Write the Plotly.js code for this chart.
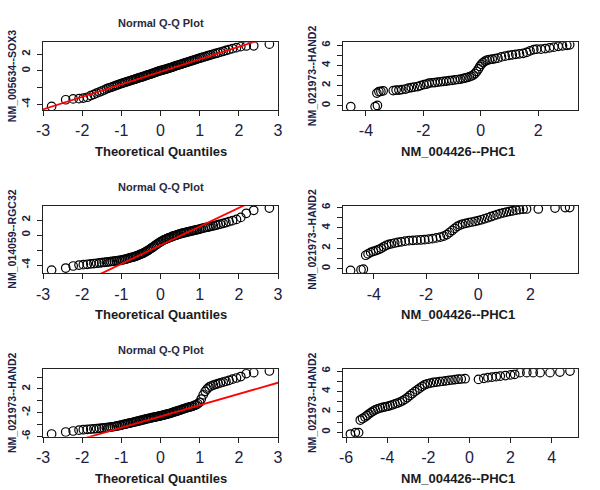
<!DOCTYPE html>
<html><head><meta charset="utf-8">
<script src="https://cdn.plot.ly/plotly-3.0.1.min.js"></script>
<style>html,body{margin:0;padding:0;background:#fff}</style>
</head><body>
<div id="chart" style="width:600px;height:490px"></div>
<script>
// ---------- data ----------
const theoQ = [-2.78,-2.42,-2.23,-2.08,-1.97,-1.87,-1.78,-1.70,-1.63,-1.56,
 -1.50,-1.44,-1.38,-1.33,-1.28,-1.23,-1.18,-1.13,-1.09,-1.04,
 -1.00,-0.96,-0.92,-0.88,-0.84,-0.80,-0.76,-0.72,-0.68,-0.64,
 -0.61,-0.57,-0.53,-0.50,-0.46,-0.43,-0.39,-0.36,-0.32,-0.29,
 -0.25,-0.22,-0.18,-0.15,-0.11,-0.08,-0.04,-0.01,0.02,0.06,
 0.09,0.13,0.16,0.20,0.23,0.27,0.30,0.34,0.37,0.41,
 0.44,0.48,0.52,0.55,0.59,0.63,0.67,0.71,0.75,0.79,
 0.83,0.87,0.91,0.95,1.00,1.04,1.09,1.14,1.19,1.24,
 1.29,1.35,1.41,1.47,1.53,1.60,1.67,1.75,1.84,1.94,
 2.05,2.19,2.38,2.78];

const sox3Sample = [-4.25,-3.45,-3.35,-3.32,-3.25,-3.15,-2.95,-2.80,-2.65,-2.52,
 -2.40,-2.28,-2.15,-2.05,-1.98,-1.90,-1.82,-1.72,-1.66,-1.58,
 -1.50,-1.44,-1.38,-1.32,-1.26,-1.20,-1.14,-1.08,-1.02,-0.97,
 -0.92,-0.86,-0.80,-0.75,-0.69,-0.64,-0.58,-0.53,-0.47,-0.42,
 -0.36,-0.31,-0.25,-0.19,-0.13,-0.08,-0.02,0.03,0.07,0.12,
 0.16,0.21,0.26,0.31,0.36,0.42,0.47,0.53,0.58,0.64,
 0.69,0.75,0.81,0.86,0.92,0.98,1.04,1.10,1.16,1.22,
 1.28,1.34,1.40,1.46,1.53,1.59,1.66,1.73,1.80,1.87,
 1.94,2.02,2.10,2.18,2.26,2.36,2.46,2.56,2.68,2.80,
 2.92,3.00,3.02,3.22];

const rgc32Sample = [-4.67,-4.40,-4.13,-4.00,-3.95,-3.90,-3.84,-3.80,-3.76,-3.72,
 -3.68,-3.64,-3.60,-3.57,-3.54,-3.51,-3.48,-3.45,-3.42,-3.38,
 -3.35,-3.30,-3.25,-3.20,-3.14,-3.08,-3.02,-2.96,-2.90,-2.84,
 -2.78,-2.70,-2.62,-2.55,-2.46,-2.38,-2.28,-2.18,-2.06,-1.95,
 -1.82,-1.70,-1.56,-1.44,-1.30,-1.18,-1.05,-0.94,-0.84,-0.74,
 -0.65,-0.56,-0.48,-0.40,-0.33,-0.26,-0.19,-0.12,-0.06,0.00,
 0.06,0.12,0.18,0.23,0.28,0.33,0.38,0.43,0.48,0.53,
 0.58,0.63,0.68,0.73,0.80,0.86,0.92,0.98,1.04,1.10,
 1.16,1.23,1.30,1.38,1.46,1.56,1.66,1.78,1.92,2.08,
 2.35,2.90,3.30,3.60];

const hand2Sample = [-5.60,-5.27,-5.10,-4.96,-4.88,-4.82,-4.77,-4.73,-4.69,-4.65,
 -4.61,-4.57,-4.52,-4.48,-4.44,-4.39,-4.34,-4.28,-4.22,-4.16,
 -4.10,-4.03,-3.96,-3.90,-3.84,-3.78,-3.72,-3.66,-3.60,-3.54,
 -3.48,-3.42,-3.36,-3.30,-3.24,-3.18,-3.12,-3.06,-3.00,-2.95,
 -2.90,-2.85,-2.80,-2.75,-2.70,-2.65,-2.60,-2.55,-2.50,-2.44,
 -2.38,-2.32,-2.26,-2.20,-2.14,-2.07,-2.00,-1.92,-1.84,-1.76,
 -1.68,-1.60,-1.52,-1.44,-1.36,-1.28,-1.20,-1.12,-1.04,-0.96,
 -0.88,-0.78,-0.66,-0.50,-0.25,0.30,1.00,1.60,2.00,2.30,
 2.50,2.65,2.78,2.90,3.02,3.15,3.30,3.45,3.65,3.85,
 4.10,4.60,4.75,5.03];

// qqline: [intercept, slope]
const qqLineSOX3 = [-0.10, 1.50];
const qqLineRGC32 = [-1.36, 2.49];
const qqLineHAND2 = [-2.64, 1.90];

// scatter panels: NM_004426--PHC1 (x) vs NM_021973--HAND2 (y)
const phc1Top = [-4.53,-3.68,-3.60,-3.62,-3.55,-3.48,-3.40,-3.05,-2.95,-2.85,
 -2.75,-2.62,-2.52,-2.42,-2.32,-2.20,-2.10,-1.98,-1.88,-1.80,
 -1.70,-1.60,-1.50,-1.40,-1.30,-1.20,-1.10,-1.00,-0.90,-0.80,
 -0.70,-0.62,-0.55,-0.48,-0.40,-0.33,-0.26,-0.20,-0.14,-0.08,
 -0.03,0.02,0.08,0.15,0.22,0.30,0.40,0.50,0.60,0.72,
 0.85,0.98,1.10,1.22,1.35,1.48,1.60,1.72,1.85,1.95,
 2.10,2.25,2.40,2.55,2.70,2.85,3.00,3.10];
const hand2Top = [-0.10,-0.10,0.02,1.25,1.40,1.42,1.48,1.50,1.55,1.55,
 1.60,1.65,1.75,1.80,1.85,1.90,2.00,2.10,2.15,2.25,
 2.28,2.30,2.35,2.38,2.42,2.45,2.50,2.52,2.56,2.60,
 2.64,2.70,2.75,2.80,2.86,2.95,3.05,3.20,3.40,3.65,
 3.90,4.10,4.28,4.42,4.52,4.58,4.62,4.68,4.72,4.85,
 4.92,5.00,5.05,5.10,5.15,5.20,5.30,5.45,5.58,5.62,
 5.62,5.68,5.75,5.82,5.90,5.95,6.00,6.05];

const phc1Mid = [-4.89,-4.49,-4.40,-4.31,-4.22,-4.12,-4.02,-3.92,-3.82,-3.72,
 -3.62,-3.52,-3.42,-3.32,-3.20,-3.08,-2.95,-2.80,-2.65,-2.50,
 -2.35,-2.20,-2.05,-1.90,-1.75,-1.60,-1.45,-1.32,-1.20,-1.10,
 -1.00,-0.90,-0.80,-0.70,-0.60,-0.48,-0.36,-0.24,-0.12,0.00,
 0.12,0.24,0.36,0.48,0.60,0.72,0.84,0.96,1.08,1.20,
 1.32,1.45,1.58,1.72,1.85,2.30,2.94,3.33,3.50];
const hand2Mid = [-0.17,-0.10,-0.05,1.32,1.45,1.60,1.70,1.78,1.88,2.00,
 2.15,2.30,2.38,2.45,2.52,2.58,2.64,2.70,2.75,2.78,
 2.80,2.82,2.85,2.90,2.95,3.02,3.10,3.20,3.35,3.55,
 3.75,3.95,4.15,4.28,4.38,4.45,4.52,4.58,4.65,4.72,
 4.80,4.90,5.00,5.10,5.20,5.30,5.40,5.48,5.55,5.62,
 5.68,5.74,5.80,5.84,5.86,5.86,5.95,6.00,6.00];

const phc1Bot = [-5.79,-5.55,-5.39,-5.31,-5.20,-5.08,-4.98,-4.88,-4.78,-4.68,
 -4.58,-4.46,-4.34,-4.22,-4.10,-3.98,-3.86,-3.74,-3.62,-3.50,
 -3.38,-3.26,-3.14,-3.02,-2.90,-2.78,-2.66,-2.54,-2.42,-2.30,
 -2.18,-2.05,-1.90,-1.75,-1.60,-1.45,-1.30,-1.15,-1.00,-0.85,
 -0.70,-0.55,-0.40,-0.21,0.44,0.70,0.90,1.10,1.30,1.50,
 1.75,2.00,2.20,2.46,2.79,3.10,3.44,3.92,4.40,4.89];
const hand2Bot = [-0.17,-0.03,-0.03,1.20,1.35,1.50,1.65,1.80,1.95,2.08,
 2.20,2.30,2.38,2.45,2.50,2.55,2.62,2.70,2.78,2.86,
 2.96,3.08,3.22,3.40,3.60,3.80,3.98,4.15,4.32,4.50,
 4.65,4.75,4.82,4.88,4.92,4.96,5.00,5.04,5.08,5.12,
 5.16,5.20,5.22,5.25,5.18,5.28,5.35,5.40,5.45,5.50,
 5.56,5.62,5.68,5.84,5.84,5.84,5.84,5.84,5.90,6.00];

// tick values / labels
const qqXTicks = [-3,-2,-1,0,1,2,3];
const qqXTickText = ['-3','-2','-1','0','1','2','3'];
const qqYTicksA = [-4,-2,0,2];
const qqYTickTextA = ['-4','','0','2'];
const qqYTicksB = [-6,-4,-2,0,2,4];
const qqYTickTextB = ['-6','','-2','','2',''];
const hand2Ticks = [0,1,2,3,4,5,6];
const hand2TickText = ['0','','2','','4','','6'];
const phc1TicksA = [-4,-2,0,2];
const phc1TicksB = [-6,-4,-2,0,2,4];

const qqTitle = 'Normal Q-Q Plot';
const qqXLabel = 'Theoretical Quantiles';
const phc1Label = 'NM_004426--PHC1';
const yLabels = ['NM_005634--SOX3','NM_021973--HAND2','NM_014059--RGC32','NM_021973--HAND2','NM_021973--HAND2','NM_021973--HAND2'];

// ---------- layout geometry (pixels) ----------
const W = 600, H = 490;
const px = v => v / W, py = v => 1 - v / H;
const colX = [[43, 278], [343, 578]];
const rowY = [[42.3, 110], [206, 273.3], [369.3, 436.7]];

const panels = [
  {x: theoQ, y: sox3Sample, line: qqLineSOX3, xr: [-3.0, 3.0], yr: [-4.68, 3.44], xt: qqXTicks, xtt: qqXTickText, yt: qqYTicksA, ytt: qqYTickTextA, qq: true},
  {x: phc1Top, y: hand2Top, xr: [-4.80, 3.39], yr: [-0.43, 6.30], xt: phc1TicksA, xtt: phc1TicksA.map(String), yt: hand2Ticks, ytt: hand2TickText},
  {x: theoQ, y: rgc32Sample, line: qqLineRGC32, xr: [-3.0, 3.0], yr: [-5.1, 3.87], xt: qqXTicks, xtt: qqXTickText, yt: qqYTicksA, ytt: qqYTickTextA, qq: true},
  {x: phc1Mid, y: hand2Mid, xr: [-5.18, 3.82], yr: [-0.45, 6.15], xt: phc1TicksA, xtt: phc1TicksA.map(String), yt: hand2Ticks, ytt: hand2TickText},
  {x: theoQ, y: hand2Sample, line: qqLineHAND2, xr: [-3.0, 3.0], yr: [-6.06, 5.32], xt: qqXTicks, xtt: qqXTickText, yt: qqYTicksB, ytt: qqYTickTextB, qq: true},
  {x: phc1Bot, y: hand2Bot, xr: [-6.15, 5.28], yr: [-0.43, 6.17], xt: phc1TicksB, xtt: phc1TicksB.map(String), yt: hand2Ticks, ytt: hand2TickText}
];

const FONT = 'Liberation Sans, Arial, sans-serif';
const textCol = '#1b2040';
const traces = [];
const layout = {
  width: W, height: H, margin: {l: 0, r: 0, t: 0, b: 0},
  paper_bgcolor: '#fff', plot_bgcolor: '#fff', showlegend: false,
  annotations: [], font: {family: FONT}
};

panels.forEach((p, i) => {
  const n = i + 1;
  const xa = n === 1 ? 'x' : 'x' + n, ya = n === 1 ? 'y' : 'y' + n;
  const xk = n === 1 ? 'xaxis' : 'xaxis' + n, yk = n === 1 ? 'yaxis' : 'yaxis' + n;
  const col = colX[i % 2], row = rowY[Math.floor(i / 2)];
  traces.push({
    type: 'scatter', mode: 'markers', x: p.x, y: p.y, xaxis: xa, yaxis: ya,
    marker: {symbol: 'circle-open', size: 8.5, color: '#000', line: {width: 1.2, color: '#000'}},
    hoverinfo: 'skip'
  });
  if (p.line) {
    traces.push({
      type: 'scatter', mode: 'lines', x: p.xr, y: p.xr.map(v => p.line[0] + p.line[1] * v),
      xaxis: xa, yaxis: ya, line: {color: '#ff0000', width: 1.8}, hoverinfo: 'skip'
    });
  }
  const common = {showgrid: false, zeroline: false, showline: true, mirror: true,
    linecolor: '#222', linewidth: 1, ticks: 'outside', ticklen: 5, tickwidth: 1, tickcolor: '#222',
    tickmode: 'array', fixedrange: true};
  layout[xk] = Object.assign({}, common, {
    domain: [px(col[0]), px(col[1])], range: p.xr, anchor: ya,
    tickvals: p.xt, ticktext: p.xtt, ticklabelstandoff: 1,
    tickfont: {family: FONT, size: 16, color: textCol}
  });
  layout[yk] = Object.assign({}, common, {
    domain: [py(row[1]), py(row[0])], range: p.yr, anchor: xa,
    tickvals: p.yt, ticktext: p.ytt, tickangle: -90, ticklabelstandoff: 2,
    tickfont: {family: FONT, size: 11.5, color: textCol, weight: 'bold'}
  });
  const cx = (col[0] + col[1]) / 2, cy = (row[0] + row[1]) / 2;
  if (p.qq) {
    layout.annotations.push({text: qqTitle, xref: 'paper', yref: 'paper', x: px(cx), y: py(row[0] - 19),
      xanchor: 'center', yanchor: 'middle', showarrow: false,
      font: {family: FONT, size: 11, color: '#2a2a3a', weight: 'bold'}});
  }
  layout.annotations.push({text: p.qq ? qqXLabel : phc1Label, xref: 'paper', yref: 'paper',
    x: px(p.qq ? cx : cx - 3), y: py(row[1] + 41.5), xanchor: 'center', yanchor: 'middle', showarrow: false,
    font: {family: FONT, size: 13, color: '#1a1a22', weight: 'bold'}});
  layout.annotations.push({text: yLabels[i], xref: 'paper', yref: 'paper',
    x: px(col[0] - 31), y: py(cy), xanchor: 'center', yanchor: 'middle', textangle: -90, showarrow: false,
    font: {family: FONT, size: 10.5, color: '#1b2248', weight: 'bold'}});
});

Plotly.newPlot('chart', traces, layout, {staticPlot: true, displayModeBar: false});
</script>
</body></html>
